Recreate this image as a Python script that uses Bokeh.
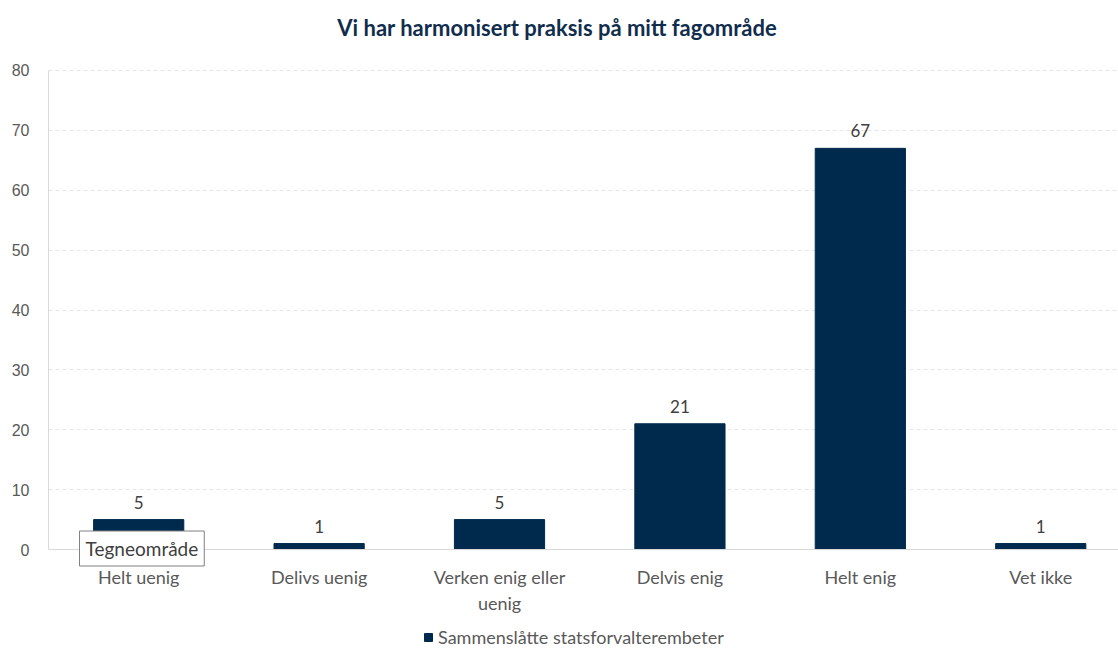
from bokeh.plotting import figure
from bokeh.models import Range1d, FixedTicker, Label, Legend, LegendItem, ColumnDataSource
from bokeh.embed import file_html
from bokeh.resources import INLINE
from bokeh.core.properties import value

title_text = "Vi har harmonisert praksis på mitt fagområde"
categories = ["Helt uenig", "Delivs uenig", "Verken enig eller\nuenig", "Delvis enig", "Helt enig", "Vet ikke"]
values = [5, 1, 5, 21, 67, 1]
series_name = "Sammenslåtte statsforvalterembeter"
y_ticks = [0, 10, 20, 30, 40, 50, 60, 70, 80]
tooltip_text = "Tegneområde"

BAR = "#002A4D"
GREY = "#595959"

positions = list(range(len(categories)))
src = ColumnDataSource(dict(x=positions, top=values, label=[str(v) for v in values]))

p = figure(width=1118, height=648, output_backend="svg", toolbar_location=None,
           x_range=Range1d(-0.5, 5.431), y_range=Range1d(-16.53, 91.69),
           min_border_left=48, min_border_right=0, min_border_top=0, min_border_bottom=0)
p.outline_line_color = None
p.background_fill_color = "white"

p.xaxis.fixed_location = 0
p.xaxis.ticker = FixedTicker(ticks=positions)
p.xaxis.major_label_overrides = {i: c for i, c in zip(positions, categories)}
p.xaxis.axis_line_color = "#d9d9d9"
p.xaxis.major_tick_line_color = None
p.xaxis.minor_tick_line_color = None
p.xaxis.major_label_text_font = "Lato"
p.xaxis.major_label_text_font_size = "18px"
p.xaxis.major_label_text_color = GREY
p.xaxis.major_label_standoff = 10

p.yaxis.ticker = FixedTicker(ticks=y_ticks)
p.yaxis.bounds = (0, 80)
p.yaxis.axis_line_color = "#d9d9d9"
p.yaxis.major_tick_line_color = None
p.yaxis.minor_tick_line_color = None
p.yaxis.major_label_text_font = "Liberation Sans"
p.yaxis.major_label_text_font_size = "16px"
p.yaxis.major_label_text_color = GREY
p.yaxis.major_label_standoff = 13

p.xgrid.grid_line_color = None
p.ygrid.grid_line_color = "#e6e6e6"
p.ygrid.grid_line_dash = "4 3"

bars = p.vbar(x="x", top="top", width=0.5, source=src, color=BAR)

p.text(x="x", y="top", text="label", source=src, text_align="center", text_baseline="bottom",
       y_offset=-11, text_font=value("Lato"), text_font_size="17px", text_color="#404040")

p.add_layout(Label(x=2.32, y=87.1, text=title_text, text_align="center", text_baseline="middle",
                   text_font="Lato", text_font_style="bold", text_font_size="22px",
                   text_color="#102D4D"))

# tooltip-like box ("Tegneområde")
p.add_layout(Label(x=-0.328, y=0.17, x_offset=3, y_offset=-3, text=tooltip_text,
                   text_align="left", text_baseline="middle", text_font="Lato",
                   text_font_size="19px", text_alpha=0.0, padding=6,
                   background_fill_color="#000000", background_fill_alpha=0.15))
p.add_layout(Label(x=-0.328, y=0.17, text=tooltip_text, text_align="left", text_baseline="middle",
                   text_font="Lato", text_font_size="19px", text_color="#404040", padding=6,
                   background_fill_color="white", border_line_color="#808080"))

legend = Legend(items=[LegendItem(label=series_name, renderers=[bars])], location=(375, 0),
                orientation="horizontal", padding=0, margin=0, glyph_width=10, glyph_height=10,
                label_standoff=5, label_text_font="Lato", label_text_font_size="18px",
                label_text_color=GREY, border_line_color=None, background_fill_alpha=0)
p.add_layout(legend)

open("out.html", "w").write(file_html(p, INLINE))
